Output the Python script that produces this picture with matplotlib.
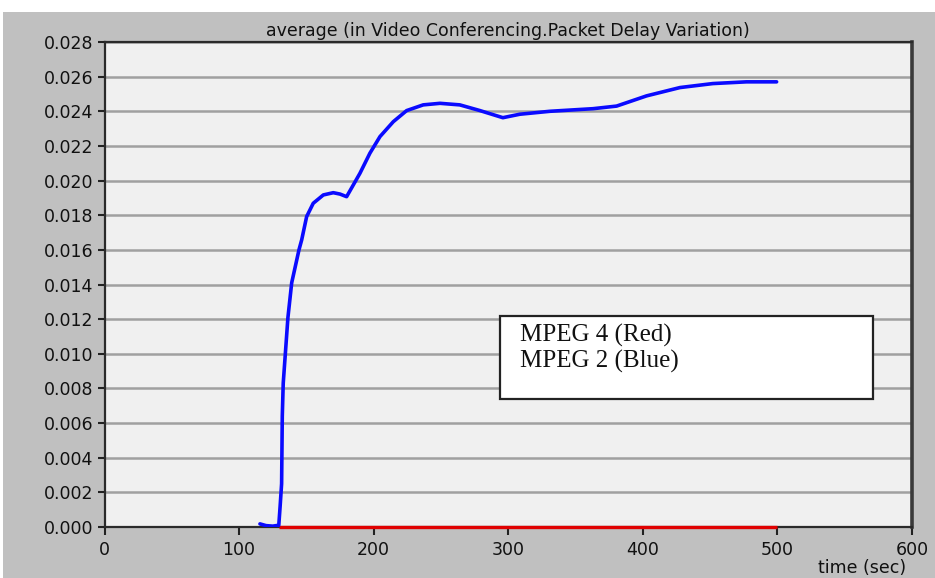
import matplotlib
matplotlib.use("Agg")
import matplotlib.pyplot as plt
from matplotlib.patches import Rectangle

# Average packet delay variation for video conferencing (seconds)
time_mpeg2 = [115.5, 120, 125, 129.5, 130.5, 131.6, 132.1, 132.8, 136.3, 139.1,
              144.5, 146.5, 150.2, 155.1, 162.6, 170, 175, 179.9, 189.8, 197.2,
              204.7, 214.6, 224.5, 236.8, 249.3, 264, 279, 296, 308.6, 331,
              363, 380.5, 402.8, 427.6, 452, 477, 499.4]
delay_mpeg2 = [0.00018, 0.00008, 0.00005, 0.0001, 0.0012, 0.0025, 0.0064, 0.0083,
               0.0121, 0.0141, 0.0160, 0.01657, 0.01792, 0.01869, 0.01917, 0.0193,
               0.01922, 0.01907, 0.02042, 0.02158, 0.02254, 0.0234, 0.02404,
               0.02437, 0.02446, 0.02437, 0.02404, 0.02363, 0.02383, 0.0240,
               0.02415, 0.0243, 0.02489, 0.02537, 0.0256, 0.0257, 0.0257]

time_mpeg4 = [130, 500]
delay_mpeg4 = [0.0, 0.0]

x_ticks = [0, 100, 200, 300, 400, 500, 600]
y_ticks = [i * 0.002 for i in range(15)]

title = "average (in Video Conferencing.Packet Delay Variation)"
legend_lines = ["MPEG 4 (Red)", "MPEG 2 (Blue)"]

W, H = 935, 578
fig = plt.figure(figsize=(W / 100, H / 100), dpi=100)
fig.patch.set_facecolor("white")
fig.patches.append(Rectangle((3 / W, 0), 1 - 3 / W, 1 - 12 / H,
                             transform=fig.transFigure, facecolor="#c0c0c0",
                             edgecolor="none", zorder=-10))

ax = fig.add_axes([104.5 / W, (H - 527) / H, (912 - 104.5) / W, (527 - 42) / H])
ax.set_facecolor("#f0f0f0")

ax.set_xlim(0, 600)
ax.set_ylim(0, 0.028)
ax.set_xticks(x_ticks)
ax.set_yticks(y_ticks)
ax.set_xticklabels([str(t) for t in x_ticks])
ax.set_yticklabels([f"{t:.3f}" for t in y_ticks])
ax.tick_params(axis="both", direction="out", length=5, width=1.5,
               color="#222222", labelsize=12.5, labelcolor="#111111", pad=3)
ax.tick_params(axis="x", length=6, pad=4)

ax.yaxis.grid(True, color="#a0a0a0", linewidth=1.8)
ax.xaxis.grid(False)
ax.set_axisbelow(True)

for side in ["left", "bottom", "top"]:
    ax.spines[side].set_color("#2a2a2a")
    ax.spines[side].set_linewidth(1.6)
ax.spines["right"].set_color("#3a3a3a")
ax.spines["right"].set_linewidth(2.6)

ax.plot(time_mpeg4, delay_mpeg4, color="#e00000", linewidth=2.4,
        solid_capstyle="butt", zorder=3, clip_on=False)
ax.plot(time_mpeg2, delay_mpeg2, color="#0a0aff", linewidth=2.6,
        solid_joinstyle="round", solid_capstyle="round", zorder=4)

ax.set_title(title, fontsize=12.5, color="#111111", pad=4)
fig.text(906 / W, 1 - 568 / H, "time (sec)", ha="right", va="center",
         fontsize=12.5, color="#111111")

# Annotation box naming the two codecs
box_x0, box_x1, box_y0, box_y1 = 500, 873, 316, 399
fig.patches.append(Rectangle((box_x0 / W, 1 - box_y1 / H),
                             (box_x1 - box_x0) / W, (box_y1 - box_y0) / H,
                             transform=fig.transFigure, facecolor="white",
                             edgecolor="#222222", linewidth=1.6, zorder=5))
for i, line in enumerate(legend_lines):
    fig.text(520 / W, 1 - (335.5 + 26 * i) / H, line, ha="left", va="center",
             fontsize=18, family="Liberation Serif", color="#111111", zorder=6)

fig.savefig("out.png", dpi=100)
